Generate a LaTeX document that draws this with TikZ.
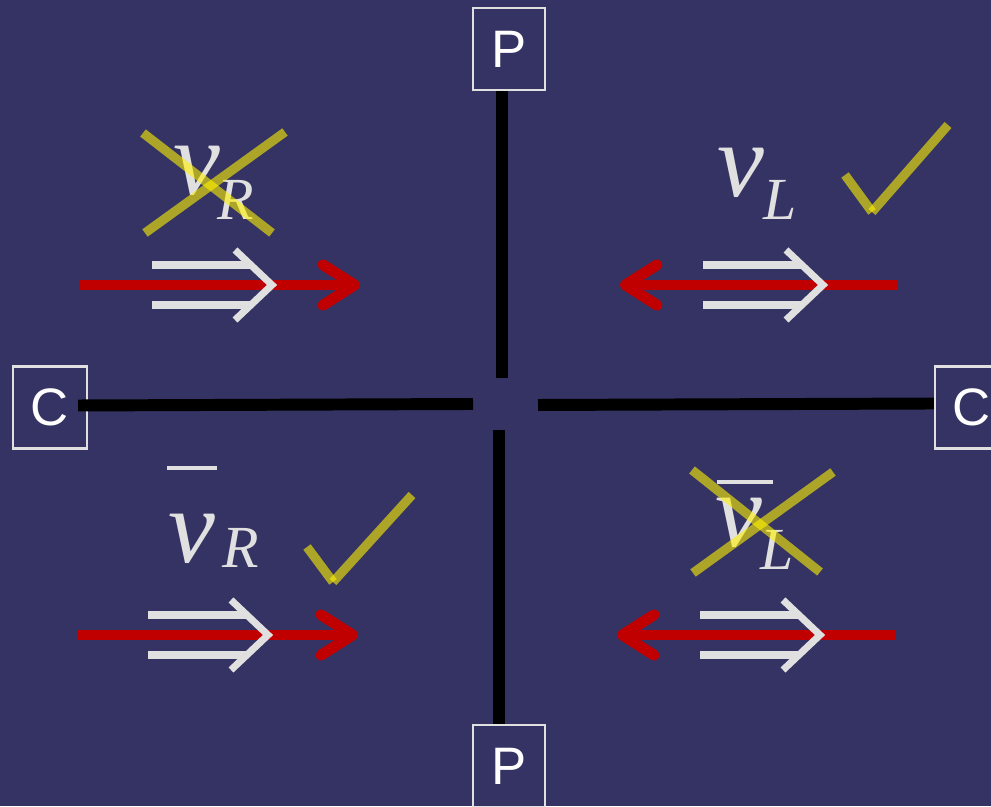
\documentclass[tikz,border=0pt]{standalone}
\usepackage{fontspec}
\setmainfont{Liberation Sans}
\newfontfamily\nufont{Liberation Serif}
\usetikzlibrary{arrows.meta,positioning}
\definecolor{slide}{RGB}{52,51,99}
\definecolor{arrowred}{RGB}{192,0,0}
\definecolor{chalk}{RGB}{224,224,224}

\begin{document}
\begin{tikzpicture}[
  pole/.style={draw=chalk,line width=0.6pt,text=white,minimum width=0.72cm,minimum height=0.82cm,inner sep=0pt,font=\fontsize{15}{15}\selectfont},
  axis/.style={black,line width=3.4pt},
  momentum/.style={arrowred,line width=3.1pt,-{Straight Barb[length=9pt,width=11.5pt,line cap=round,line join=round]}},
  spinline/.style={chalk,line width=2pt},
  nu/.style={text=chalk,inner sep=0pt,anchor=base west,font=\nufont\itshape\fontsize{30}{30}\selectfont},
  sub/.style={text=chalk,inner sep=0pt,anchor=base west,font=\nufont\itshape\fontsize{17}{17}\selectfont},
  verdict/.style={yellow,opacity=0.6,line width=2.6pt},
  spin/.pic={
    \draw[spinline] (-1.25,0.2) -- (-0.26,0.2);
    \draw[spinline] (-1.25,-0.2) -- (-0.26,-0.2);
    \draw[spinline] (-0.42,0.35) -- (-0.05,0) -- (-0.42,-0.35);
  }]
\useasboundingbox (0,0) rectangle (9.91,8.06);
\fill[slide] (0,0) rectangle (9.91,8.06);
\clip (0,0) rectangle (9.91,8.06);

\node[pole] (Ptop) at (5.09,7.57) {P};
\node[pole] (Pbot) at (5.09,0.40) {P};
\node[pole,minimum width=0.74cm] (Cleft) at (0.50,3.985) {C};
\node[pole,minimum width=0.74cm] (Cright) at (9.72,3.985) {C};

\coordinate (Tin) at (5.02,4.28);
\coordinate (Bin) at (4.99,3.76);
\coordinate (Lin) at (4.73,4.02);
\coordinate (Rin) at (5.38,4.01);
\draw[axis] (Tin |- Ptop.south) -- (Tin);
\draw[axis] (Bin) -- (Bin |- Pbot.north);
\draw[axis] ([xshift=-0.1cm,yshift=0.02cm]Cleft.east) -- (Lin);
\draw[axis] (Rin) -- ([yshift=0.04cm]Cright.west);

\draw[momentum] (0.80,5.21) -- (3.60,5.21);
\draw[momentum] (8.98,5.21) -- (6.20,5.21);
\draw[momentum] (0.78,1.71) -- (3.58,1.71);
\draw[momentum] (8.95,1.71) -- (6.17,1.71);

\pic at (2.77,5.21) {spin};
\pic at (8.28,5.21) {spin};
\pic at (2.73,1.71) {spin};
\pic at (8.25,1.71) {spin};

\node[nu] (nuR) at (1.73,6.11) {ν};
\node[sub] (nuRsub) at (2.17,5.86) {R};
\node[nu] (nuL) at (7.17,6.09) {ν};
\node[sub] (nuLsub) at (7.63,5.86) {L};
\node[nu] (barnuR) at (1.68,2.43) {ν};
\node[sub] (barnuRsub) at (2.22,2.38) {R};
\draw[chalk,line width=1.2pt] (1.67,3.38) -- (2.17,3.38);
\node[nu] (barnuL) at (7.15,2.59) {ν};
\node[sub] (barnuLsub) at (7.60,2.36) {L};
\draw[chalk,line width=1.2pt] (7.17,3.24) -- (7.73,3.24);

\draw[verdict] (1.43,6.73) -- (2.72,5.73);
\draw[verdict] (2.85,6.74) -- (1.45,5.73);
\draw[verdict] (6.92,3.36) -- (8.20,2.34);
\draw[verdict] (8.33,3.34) -- (6.93,2.33);

\draw[verdict] (8.45,6.31) -- (8.72,5.94);
\draw[verdict] (8.72,5.94) -- (9.48,6.81);
\draw[verdict] (3.07,2.59) -- (3.33,2.24);
\draw[verdict] (3.33,2.24) -- (4.12,3.11);
\end{tikzpicture}
\end{document}
